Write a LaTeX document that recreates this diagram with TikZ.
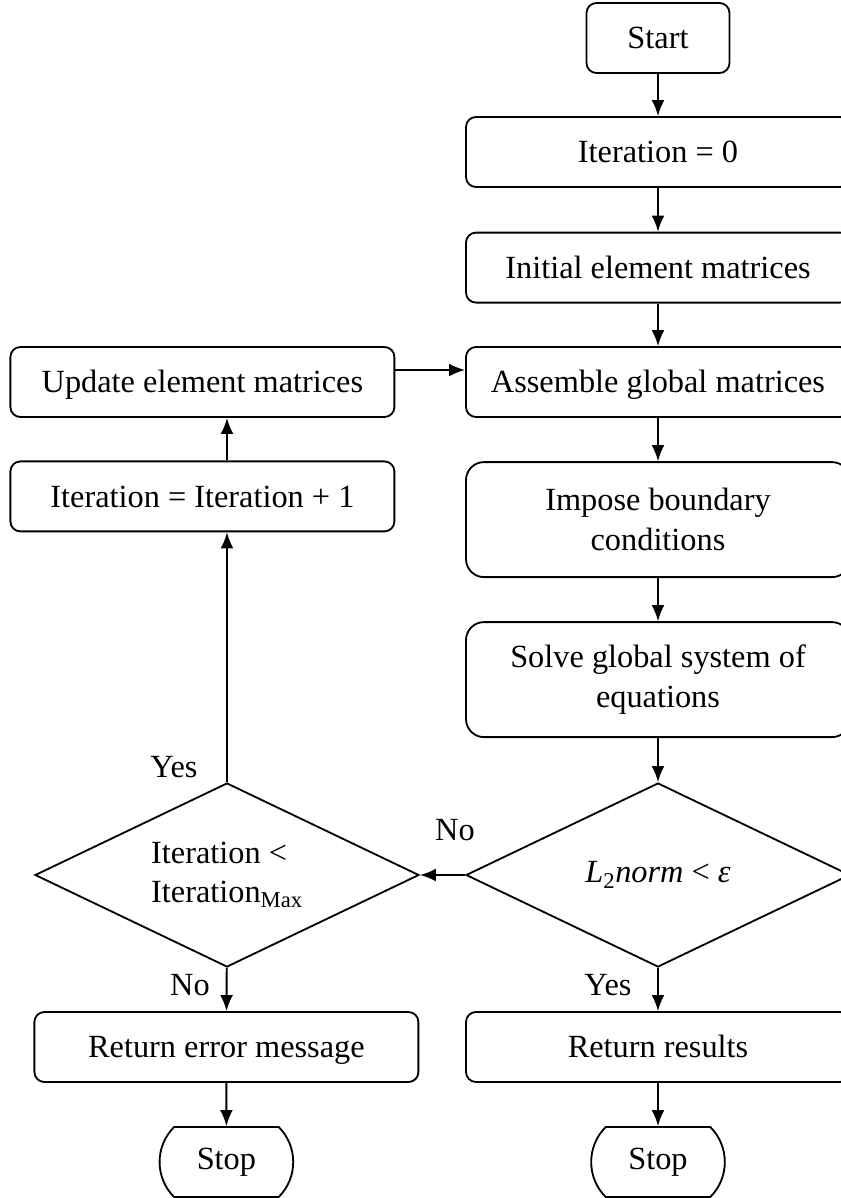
\documentclass[tikz,border=0pt]{standalone}
\usepackage{fontspec}
\setmainfont{Liberation Serif}
\usetikzlibrary{shapes.geometric,shapes.misc,arrows.meta,calc}

\begin{document}
\begin{tikzpicture}[
    box/.style={draw, rectangle, rounded corners=0.25cm, minimum width=9.6cm, minimum height=1.75cm, line width=1.3pt, text height=20.7pt, text depth=5.5pt},
    tallbox/.style={box, rounded corners=0.45cm, minimum height=2.875cm, text height=, text depth=, align=center},
    term/.style={draw, rounded rectangle, rounded rectangle arc length=90, minimum width=3.575cm, minimum height=1.75cm, line width=1.3pt},
    decision/.style={draw, diamond, aspect=2.09, inner sep=0pt, minimum width=9.6cm, minimum height=4.6cm, line width=1.3pt},
    flow/.style={-{Latex[length=0.4cm,width=0.32cm]}, line width=1.3pt},
    font=\fontsize{23}{28}\selectfont]
    \useasboundingbox (0,0) rectangle (21.025,-29.95);
    \clip (0,0) rectangle (21.025,-29.95);

    % main column
    \node[box, minimum width=3.575cm] (start) at (16.45,-0.95) {Start};
    \node[box] (iterzero) at (16.45,-3.8) {Iteration = 0};
    \node[box] (initial) at (16.45,-6.69) {Initial element matrices};
    \node[box] (assemble) at (16.45,-9.55) {Assemble global matrices};
    \node[tallbox] (impose) at (16.45,-12.99) {Impose boundary\\conditions};
    \node[tallbox] (solve) at (16.45,-16.99) {Solve global system of\\equations};
    \node[decision] (converge) at (16.45,-21.875) {\textit{L}\textsubscript{2}\textit{norm} < \textit{ε}};
    \node[box] (results) at (16.45,-26.175) {Return results};
    \node[term] (stopok) at (16.45,-29.05) {Stop};

    % loop column
    \node[box] (update) at (5.06,-9.55) {Update element matrices};
    \node[box] (increment) at (5.06,-12.41) {Iteration = Iteration + 1};
    \node[decision, align=left] (check) at (5.675,-21.875) {Iteration <\\Iteration\textsubscript{Max}};
    \node[box] (error) at (5.66,-26.175) {Return error message};
    \node[term] (stopfail) at (5.66,-29.05) {Stop};

    % labels
    \node (yesloop) at (4.35,-19.175) {Yes};
    \node (noconv) at (11.375,-20.75) {No};
    \node (nomax) at (4.75,-24.625) {No};
    \node (yesconv) at (15.2,-24.625) {Yes};

    \coordinate (feed) at ($(update.east)+(0,0.3)$);

    \draw[flow] (start) -- (iterzero);
    \draw[flow] (iterzero) -- (initial);
    \draw[flow] (initial) -- (assemble);
    \draw[flow] (assemble) -- (impose);
    \draw[flow] (impose) -- (solve);
    \draw[flow] (solve) -- (converge);
    \draw[flow] (converge) -- (results);
    \draw[flow] (results) -- (stopok);
    \draw[flow] (converge.west) -- (check.east);
    \draw[flow] (check) -- (error);
    \draw[flow] (error) -- (stopfail);
    \draw[flow] (check.north) -- (check.north |- increment.south);
    \draw[flow] (check.north |- increment.north) -- (check.north |- update.south);
    \draw[flow] (feed) -- (feed -| assemble.west);
\end{tikzpicture}
\end{document}
